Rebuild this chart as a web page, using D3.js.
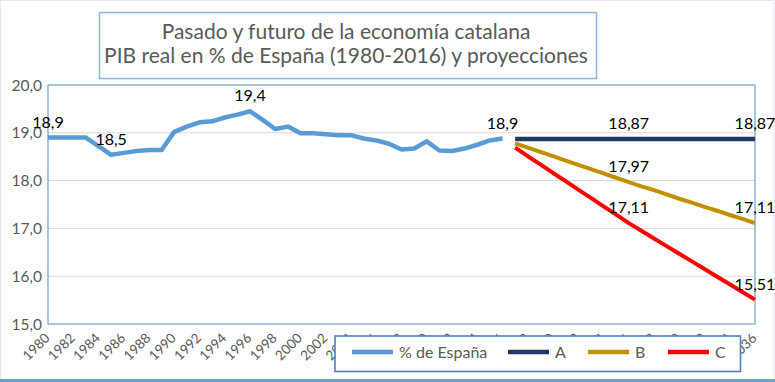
<!DOCTYPE html>
<html><head><meta charset="utf-8">
<script src="https://cdn.jsdelivr.net/npm/d3@7"></script>
<style>body{margin:0;background:#fff}svg{display:block}text{font-family:Lato,"Open Sans",sans-serif}</style>
</head><body><svg id="c" width="775" height="382"></svg>
<script>
const titleLines = ["Pasado y futuro de la economía catalana", "PIB real en % de España (1980-2016) y proyecciones"];
const years = d3.range(1980, 2037);
const tickLabels = [1980,1982,1984,1986,1988,1990,1992,1994,1996,1998,2000,2002,2004,2006,2008,2010,2012,2014,2016,2018,2020,2022,2024,2026,2028,2030,2032,2034,2036];
const yTicks = [15,16,17,18,19,20];
const histYears = d3.range(1980, 2017);
const histValues = [18.90,18.90,18.90,18.90,18.72,18.54,18.58,18.62,18.64,18.64,19.02,19.13,19.22,19.24,19.32,19.38,19.45,19.27,19.08,19.13,18.99,18.99,18.97,18.95,18.95,18.88,18.84,18.77,18.65,18.67,18.82,18.63,18.62,18.67,18.75,18.84,18.88];
const projYears = d3.range(2017, 2037);
const valuesA = [18.87,18.87,18.87,18.87,18.87,18.87,18.87,18.87,18.87,18.87,18.87,18.87,18.87,18.87,18.87,18.87,18.87,18.87,18.87,18.87];
const valuesB = [18.78,18.69,18.60,18.51,18.42,18.33,18.24,18.15,18.06,17.97,17.88,17.80,17.71,17.62,17.54,17.45,17.37,17.28,17.20,17.11];
const valuesC = [18.69,18.51,18.34,18.16,17.99,17.81,17.64,17.46,17.29,17.11,16.95,16.79,16.63,16.47,16.31,16.15,15.99,15.83,15.67,15.51];
const seriesNames = ["% de España","A","B","C"];
const seriesColors = ["#5b9bd5","#203864","#bf9000","#ff0000"];
const histLabelYears = [1980,1985,1996,2016];
const projLabelYears = [2026,2036];

const svg = d3.select("#c");
const W = 775, H = 382;
const m = {l:48, r:755, t:85, b:324};
const x = d3.scalePoint().domain(years).range([m.l, m.r]).padding(0);
const y = d3.scaleLinear().domain([15,20]).range([m.b, m.t]);
const fmt1 = v => d3.format(".1f")(v).replace(".", ",");
const fmt2 = v => d3.format(".2f")(v).replace(".", ",");

// outer border
svg.append("rect").attr("x",0.5).attr("y",0.5).attr("width",W-1.5).attr("height",H-1).attr("fill","none").attr("stroke","#dfe8f3").attr("stroke-width",1);
svg.append("line").attr("x1",0).attr("x2",W).attr("y1",380.5).attr("y2",380.5).attr("stroke","#6fa0d4").attr("stroke-width",3);

// gridlines
svg.append("g").selectAll("line").data(yTicks.filter(d=>d>15&&d<20)).join("line")
  .attr("x1",m.l).attr("x2",m.r).attr("y1",d=>y(d)).attr("y2",d=>y(d))
  .attr("stroke","#d9d9d9").attr("stroke-width",1);

// plot border
svg.append("rect").attr("x",m.l).attr("y",m.t).attr("width",m.r-m.l).attr("height",m.b-m.t)
  .attr("fill","none").attr("stroke","#7ea5cf").attr("stroke-width",1.3);

// y axis labels
const yAxis = d3.axisLeft(y).tickValues(yTicks).tickSize(0).tickPadding(6).tickFormat(fmt1);
const ya = svg.append("g").attr("transform",`translate(${m.l},0)`).call(yAxis);
ya.select(".domain").remove();
ya.selectAll("text").attr("font-size",15.5).attr("fill","#595959").attr("font-family","Lato").attr("dy","0.33em");

// x axis labels
const xAxis = d3.axisBottom(x).tickValues(tickLabels).tickSize(0).tickPadding(0);
const xa = svg.append("g").attr("transform",`translate(0,${m.b})`).call(xAxis);
xa.select(".domain").remove();
xa.selectAll("text").attr("font-size",13.5).attr("fill","#595959").attr("font-family","Lato")
  .attr("text-anchor","end").attr("dy",0).attr("y",0)
  .attr("transform","translate(2,15) rotate(-45)");

// lines
const line = d3.line().x(d=>x(d[0])).y(d=>y(d[1]));
const series = [
  {name:seriesNames[0], color:seriesColors[0], pts:histYears.map((yr,i)=>[yr,histValues[i]]), w:4.5},
  {name:seriesNames[1], color:seriesColors[1], pts:projYears.map((yr,i)=>[yr,valuesA[i]]), w:4.5},
  {name:seriesNames[2], color:seriesColors[2], pts:projYears.map((yr,i)=>[yr,valuesB[i]]), w:4},
  {name:seriesNames[3], color:seriesColors[3], pts:projYears.map((yr,i)=>[yr,valuesC[i]]), w:4}
];
svg.append("g").selectAll("path").data(series).join("path")
  .attr("d",d=>line(d.pts)).attr("fill","none").attr("stroke",d=>d.color)
  .attr("stroke-width",d=>d.w).attr("stroke-linejoin","round");

// data labels
const lab = [];
histLabelYears.forEach(yr=>{ const v = histValues[histYears.indexOf(yr)]; lab.push([yr, v, fmt1(v)]); });
[valuesA, valuesB, valuesC].forEach(arr=>projLabelYears.forEach(yr=>{ const v = arr[projYears.indexOf(yr)]; lab.push([yr, v, fmt2(v)]); }));
svg.append("g").selectAll("text").data(lab).join("text")
  .attr("x",d=>x(d[0])).attr("y",d=>y(d[1])-10).attr("text-anchor","middle")
  .attr("font-size",16).attr("fill","#000").text(d=>d[2]);

// title
const tb = {x:99.5, y:12.5, w:497, h:66};
svg.append("rect").attr("x",tb.x).attr("y",tb.y).attr("width",tb.w).attr("height",tb.h)
  .attr("fill","#fff").attr("stroke","#8db3e0").attr("stroke-width",1.5);
const t2 = svg.append("text").attr("x",tb.x+tb.w/2-2).attr("y",63).attr("text-anchor","middle").attr("fill","#595959").attr("font-size",20).text(titleLines[1]);
let fs = 20 * 484 / t2.node().getComputedTextLength();
t2.attr("font-size",fs);
svg.append("text").attr("x",tb.x+tb.w/2-2).attr("y",38.5).attr("text-anchor","middle").attr("fill","#595959").attr("font-size",fs).text(titleLines[0]);

// legend
const lg = svg.append("g");
lg.append("rect").attr("x",335).attr("y",336).attr("width",405.5).attr("height",35.5)
  .attr("fill","#fff").attr("stroke","#4f7fc0").attr("stroke-width",1.6);
const legX = [352,508,588,668];
const li = lg.selectAll("g").data(series).join("g").attr("transform",(d,i)=>`translate(${legX[i]},352)`);
li.append("line").attr("x1",0).attr("x2",41).attr("stroke",d=>d.color).attr("stroke-width",4.5);
li.append("text").attr("x",47).attr("y",5.5).attr("font-size",16).attr("fill","#595959").text(d=>d.name);
</script></body></html>
